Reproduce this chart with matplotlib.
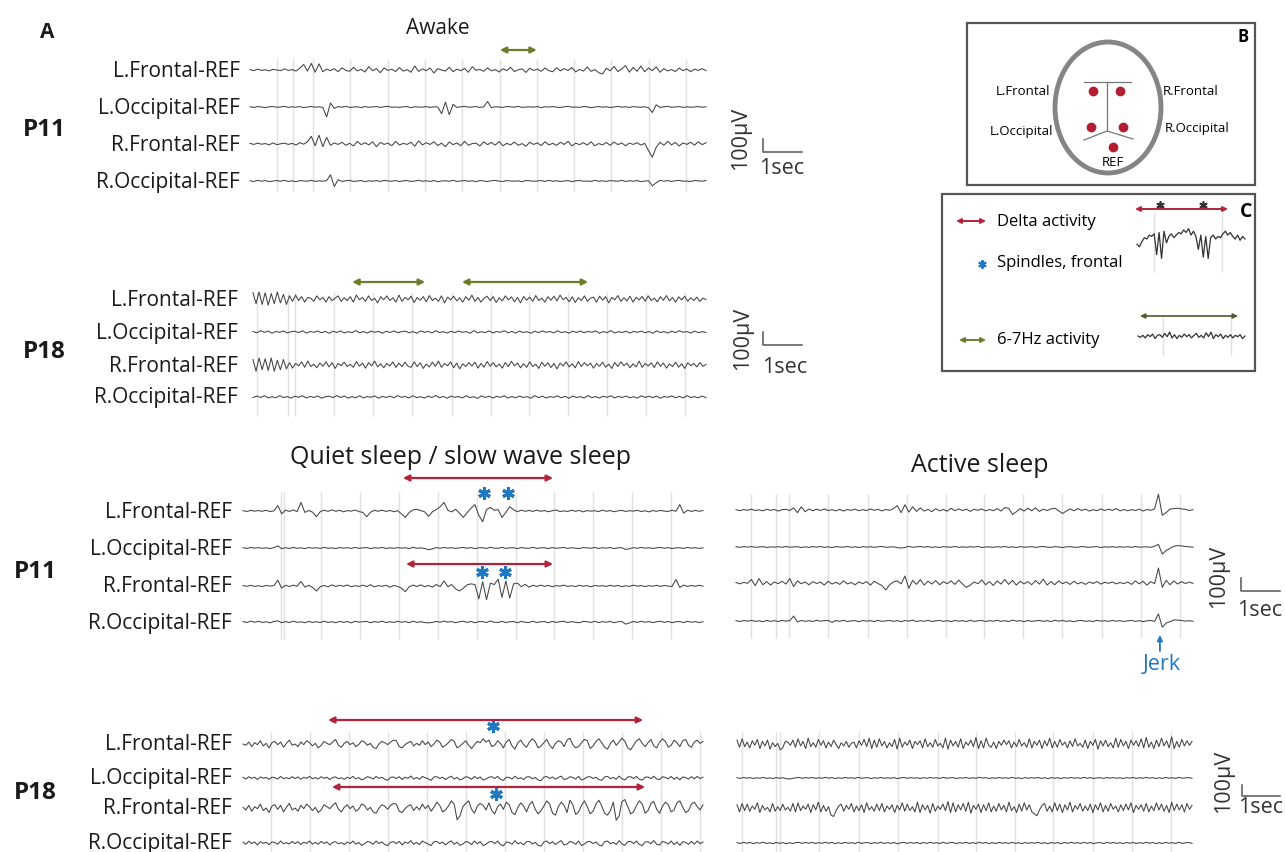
import numpy as np
import matplotlib
matplotlib.use("Agg")
import matplotlib.pyplot as plt
from matplotlib.patches import Ellipse, Rectangle

plt.rcParams['font.family'] = ['Open Sans', 'DejaVu Sans']

# ---- channel names -------------------------------------------------------
channels = ["L.Frontal-REF", "L.Occipital-REF", "R.Frontal-REF", "R.Occipital-REF"]

# ---- EEG traces, values in microvolts ------------------------------------
# Awake, P11
aw11_lf = [2,-3,4,-2,1,-4,3,0,-3,5,-2,2,-5,8,25,-5,30,-10,28,-8,4,
           -3,6,-8,10,-2,-6,12,-4,3,-9,15,-3,6,-12,9,-2,4,-7,11,-5,
           2,-10,18,-6,5,-3,9,-14,6,0,-5,12,-8,4,-3,7,-10,15,-2,3,
           -6,10,-4,2,-9,6,-3,12,-7,1,5,-11,8,-2,4,-6,9,-3,-8,10,
           -4,6,-2,11,-9,3,-5,14,-6,2,-12,-18,8,-4,16,-7,5,20,-10,12,
           -6,18,-8,9,-3,14,-10,6,-4,2,-7,9,-3,5,-8,4,-2,6,-3]
aw11_lo = [1,-2,2,0,-3,1,2,-1,0,3,-2,1,-1,2,-3,0,2,-1,1,-2,
           -45,18,-6,
           2,-1,3,-2,0,1,-3,2,-1,0,2,-2,1,3,-1,0,-2,1,2,-3,1,0,-1,2,-2,1,0,
           -30,22,-35,12,-2,1,3,-1,0,2,-2,1,25,
           -3,1,0,-2,2,1,-1,3,-2,0,1,-1,2,-3,1,0,2,-1,-2,1,
           3,-1,0,-2,2,1,-3,0,2,-1,1,-2,0,3,-1,1,-2,2,0,-1,1,-3,
           -25,10,-2,1,3,-1,0,2,-2,1,-1,0,2,-1,1]
aw11_rf = [3,-2,4,-1,2,-4,5,-3,1,4,-2,3,-5,6,-1,10,35,-8,40,-12,30,-6,
           5,-2,8,-6,3,-9,12,-3,6,-4,10,-12,7,-2,4,-8,12,-5,3,-2,
           8,-10,14,-4,6,-2,10,-7,4,-12,9,-3,5,-8,12,-6,2,4,-9,10,
           -3,7,-5,11,-8,3,-4,9,-6,2,-10,8,-2,5,-7,10,-4,3,-6,8,
           -2,12,-9,4,-3,6,-5,10,-8,2,-4,7,-6,9,-3,5,-8,4,-2,6,-5,3,
           -30,-60,-15,8,-6,12,-4,7,-9,5,-2,8,-5,10,-3,6]
aw11_ro = [1,-2,3,-1,2,-3,0,2,-1,3,-2,1,-3,2,0,-1,3,-2,1,-1,2,
           28,-25,6,
           -2,1,3,-2,0,2,-3,1,-1,2,-2,3,0,-1,2,-3,1,2,-2,0,
           3,-1,1,-2,2,-3,0,1,-1,3,-2,0,2,-1,1,-3,2,0,-2,1,
           3,-1,-2,2,0,-1,1,-3,2,1,-1,0,2,-2,3,-1,1,-2,0,2,
           -3,1,2,-1,0,-2,3,-1,1,-2,2,0,-1,3,-2,1,-1,2,-3,0,1,
           -22,-8,3,-1,2,-2,1,3,-1,0,-2,2,1,-1,2]

# Awake, P18
aw18_lf = [40,-30,45,-35,40,-40,35,-30,45,-25,30,-35,
           20,-15,25,-10,15,-20,10,5,-15,20,-5,10,-20,15,-10,5,20,-15,8,-10,
           15,-20,25,-5,10,-15,20,-10,5,-25,15,-5,20,-10,8,-20,25,-15,10,-5,
           18,-22,10,-8,15,-18,22,-10,5,-15,20,-25,12,-5,18,-12,8,-20,15,-8,
           25,-15,10,-20,5,18,-10,15,-22,8,-12,20,-6,14,-18,10,-25,16,-8,12,
           -15,22,-10,6,-20,15,-8,18,-12,25,-5,10,-18,14,-22,8,-10,20,-15,5,
           12,-20,18,-8,15,-25,10,-5,22,-15,8,-12,18,-20,10,-6,16,-14,20,-10,
           6,-18,15,-8,22,-12,10,-20,14,-6,18,-15,8,-10,12,-16,6,-4]
aw18_lo = [3,-5,8,-2,6,-8,4,-3,7,-6,2,5,-4,8,-7,3,-2,6,-5,4,
           -8,5,-3,7,-6,2,-4,9,-5,3,-7,6,-2,4,-8,5,-3,7,-4,2,
           6,-5,3,-8,7,-2,4,-6,8,-3,2,-7,5,-4,6,-2,3,-8,9,-5,
           2,-4,7,-6,3,-2,8,-5,4,-7,6,-3,2,-8,5,-4,7,-2,3,-6,
           8,-4,2,-7,5,-3,6,-5,4,-2,7,-8,3,-4,9,-6,2,-3,5,-7,
           4,-2,6,-5,3,-8,7,-3,2,-6,5,-4,8,-2,3,-7,6,-4,2,-3]
aw18_rf = [35,-40,45,-30,40,-35,45,-40,30,-30,35,-25,
           15,-20,10,-5,20,-15,25,-10,5,-18,12,-8,20,-12,15,-22,10,-5,18,-10,
           5,-15,22,-8,12,-20,15,-5,25,-12,8,-18,10,-6,20,-15,12,-10,18,-8,
           -15,20,-10,14,-22,6,-12,18,-8,25,-15,10,-5,20,-18,12,-25,8,-10,15,
           -6,18,-20,10,-14,22,-8,15,-12,6,-20,16,-10,24,-5,12,-18,8,-15,20,
           -10,5,-22,18,-8,14,-16,10,-25,12,-6,20,-12,8,-18,22,-10,15,-5,12,
           -20,10,-8,18,-14,6,-22,16,-10,20,-5,12,-18,8,-12,25,-15,10,-6,14,
           -16,20,-8,12,-20,6,-10,18,-14,8,-22,15,-5,10,-12,16,-8,4]
aw18_ro = [-4,6,-3,8,-6,2,-5,9,-4,3,-7,5,-2,8,-6,4,-3,7,-8,2,
           5,-4,9,-3,6,-7,2,-5,8,-6,3,-2,7,-8,4,-3,6,-5,9,-2,
           3,-6,8,-4,2,-7,5,-3,10,-5,4,-8,6,-2,3,-6,8,-4,2,-9,
           7,-3,5,-6,4,-2,8,-7,3,-5,6,-3,2,-8,9,-4,5,-6,3,-2,
           7,-5,4,-8,6,-3,2,-6,9,-4,3,-7,5,-2,8,-6,4,-3,6,-5,
           2,-7,8,-3,5,-4,6,-8,3,-2,7,-5,4,-6,8,-3,2,-5,6,-4]

# Quiet sleep, P11
qs11_lf = [2,-3,4,-1,3,-2,5,-4,1,38,-20,6,-3,8,-5,60,-10,4,-8,-40,-5,
           6,-3,8,-2,5,-6,3,-1,7,-4,-10,-40,-8,5,-2,6,-3,4,-5,2,
           -20,-45,-10,8,12,3,-6,-38,-5,10,30,60,5,-6,12,-15,-45,-10,
           20,45,-30,-75,10,25,5,10,-45,-10,30,8,-5,6,-2,
           4,-3,6,-2,3,-5,2,7,-4,1,-3,5,-2,4,-6,3,-1,2,-4,6,
           -2,3,-5,1,4,-3,2,-1,5,-4,2,-6,3,-2,4,-1,-3,5,-2,
           45,-15,5,-3,4,-2,3]
qs11_lo = [2,-3,4,-1,3,-2,1,-4,3,15,-5,2,-3,4,-2,1,-4,3,-1,2,
           -3,5,-2,1,-4,3,-1,2,-3,4,-2,1,3,-4,2,-1,4,-3,1,-2,
           3,-1,2,-4,5,-2,1,-3,-12,-6,3,-2,4,-1,2,-3,1,4,-2,3,
           -4,1,2,-3,5,-1,-2,4,-3,1,2,-4,3,-1,-2,5,-3,1,2,-4,
           3,-2,1,4,-3,2,-1,-4,3,1,-2,4,-3,2,-1,3,-4,1,2,-10,
           -5,3,-2,4,-1,2,-3,1,4,-2,3,-4,1,2,-3,4,-1,2,-3,1]
qs11_rf = [3,-2,5,-3,2,-4,4,-1,3,40,-15,5,-4,6,-2,32,-8,5,-10,-35,-5,
           4,-6,8,-3,5,-2,7,-5,2,-3,6,-4,9,-6,3,-2,5,-8,4,-3,
           -15,-40,-5,6,-3,8,-5,4,-8,10,-4,35,-5,
           10,-20,-35,-15,8,15,10,-90,30,-95,20,10,48,-80,35,-85,15,
           20,-5,12,-8,
           5,-3,6,-2,4,-5,3,-1,6,-3,2,-4,5,-2,3,-6,4,-1,2,-3,
           5,-2,4,-5,2,-3,6,-1,3,-4,2,-2,5,-3,4,-1,-3,
           45,-10,6,-3,4,-2,5,-1]
qs11_ro = [3,-4,6,-2,5,-3,2,-6,4,8,-5,3,-4,6,-2,1,-5,4,-3,2,
           -4,6,-3,2,-5,4,-2,3,-6,5,-1,2,4,-5,3,-2,6,-4,2,-3,
           5,-2,3,-5,6,-3,2,-4,-6,-3,4,-2,6,-1,3,-5,2,5,-3,4,
           -5,2,3,-4,7,-2,-3,5,-4,2,3,-5,4,-2,-3,6,-4,2,3,-5,
           4,-3,2,5,-4,3,-2,-5,4,2,-3,5,-4,3,-2,4,-5,2,3,-15,
           -6,4,-3,5,-2,3,-4,2,5,-3,4,-5,2,3,-4,5,-2,3,-4,2]

# Active sleep, P11 (jerk near the end)
as11_lf = [2,-4,3,-2,5,-3,1,-5,4,-2,3,-6,2,4,-3,12,-15,18,-10,6,
           -4,5,-3,6,-3,2,-5,4,-6,3,-2,5,-4,2,-3,6,-2,4,-5,3,
           -2,8,25,-15,30,-12,18,-8,12,-6,4,-10,8,-5,3,-7,10,-4,6,-3,
           5,-8,4,-2,6,-5,3,-4,8,-6,14,10,-25,-10,8,-6,10,-4,12,-8,
           5,-3,6,10,-4,-20,-6,6,-4,8,-3,5,-6,2,-4,6,-3,5,-2,8,
           -5,3,-4,2,-3,5,-6,3,-2,6,90,-30,-15,5,8,10,6,4,-3,2]
as11_lo = [1,-2,2,-1,3,-2,0,2,-3,1,-1,2,-2,3,-1,0,2,-3,1,-2,
           2,-1,3,-2,1,-3,2,0,-1,3,-2,1,-3,2,-1,2,-2,1,3,-2,
           0,1,-3,-6,-3,4,-2,1,3,-1,2,-2,1,-3,2,0,-1,3,-2,1,
           -2,2,-1,3,-3,1,0,-2,2,-1,3,-2,1,-3,2,-1,0,2,-2,1,
           3,-1,-2,2,0,-3,1,2,-1,-2,3,0,-2,1,2,-3,1,-1,2,-2,
           1,-1,2,-2,3,-1,0,1,-2,4,15,-40,-20,-8,4,8,6,3,1,-1]
as11_rf = [3,-5,4,-2,20,-15,25,-10,8,-12,6,-4,10,-6,25,-20,12,-4,6,-10,
           8,-3,5,-12,10,-6,4,-8,12,-5,3,-10,6,-4,8,-12,10,-3,-15,-40,
           -10,6,12,-5,40,-30,15,-8,20,-12,10,-6,14,-10,8,-4,12,-8,16,-6,
           -25,-12,6,-4,18,-10,8,-14,12,-6,20,-8,15,-12,10,-5,8,-10,14,-6,
           22,-12,8,-10,12,-4,6,-8,10,-5,4,-8,6,-3,8,-6,4,-2,6,-5,
           3,-4,6,-8,12,-5,10,-12,8,-4,85,-25,15,-10,12,-6,8,-3,5,-2]
as11_ro = [2,-3,3,-1,4,-2,1,-4,3,-2,2,-3,4,-1,2,28,-5,3,-2,2,
           -3,4,-1,2,3,-8,3,-2,4,-3,1,2,-4,3,-1,2,-3,4,-2,1,
           3,-2,2,-4,3,-1,5,-3,2,-2,4,-3,1,3,-2,2,-4,3,-1,2,
           -3,4,-2,1,3,-3,2,-1,4,-2,2,-3,5,-1,2,-4,3,-2,1,3,
           -2,2,-3,4,-1,3,-2,1,-4,2,3,-2,1,-3,4,-1,2,-2,3,-1,
           2,-3,1,3,-2,2,-4,1,3,-2,40,-35,-12,-4,6,5,3,-1,2,-2]

# Quiet sleep, P18 (slow waves)
qs18_lf = [0,-10,15,-20,10,-5,25,-15,5,-30,10,20,-5,15,-25,5,30,-10,0,-20,
           15,-5,25,10,-15,5,-30,-10,20,5,-5,15,35,-10,-25,5,20,-5,10,-20,
           -5,25,15,-10,5,-25,-35,0,20,10,-5,15,30,25,-20,-30,-5,10,20,-15,
           5,-10,25,-5,15,-20,0,30,15,-25,-10,10,35,20,-30,-15,5,25,-10,-35,
           -5,20,10,40,15,30,-20,-10,25,5,-30,15,35,-15,-40,10,30,-5,-25,15,
           40,20,-30,-15,10,35,-10,-35,5,25,15,-20,30,45,-5,-30,-20,10,35,25,
           -35,-15,20,40,10,-25,-40,5,30,-10,15,45,20,-30,-45,-10,25,40,5,-20,
           10,35,-15,-30,15,40,20,-25,-10,30,10,-20,25,35,-10,-25,15,30,5,20]
qs18_lo = [5,-8,10,-3,6,-12,8,-2,4,-10,6,3,-8,12,-5,2,-6,10,-4,8,
           -10,5,-2,12,-6,4,-8,10,-3,6,-12,4,8,-5,2,-10,6,-4,12,-7,
           3,-15,-5,10,4,-8,12,-3,6,-10,-18,5,8,-4,10,-12,6,-2,15,-8,
           4,-10,12,2,-6,-18,8,10,-4,6,-12,3,14,-8,5,-15,-6,10,4,-10,
           12,-5,8,-16,-8,6,10,-4,12,-10,-18,6,4,-8,14,-5,2,-12,8,10,
           -6,4,-15,-20,6,12,-4,8,-10,5,14,-12,-6,10,4,-8,12,-16,-6,8,
           10,-4,6,-12,-18,8,12,-5,4,-10,15,-6,-15,8,10,-4,12,-10,-16,6,
           8,-5,14,-8,-12,10,4,-6,12,-10,6,-14,8,4,-8,10,-6,12,-4,6]
qs18_rf = [5,-15,20,-25,10,-5,30,-20,0,-35,15,25,-10,20,-30,5,35,-15,0,-25,
           20,-5,30,10,-20,5,-35,-15,25,10,-5,20,40,-10,-30,5,25,-5,15,-25,
           -10,30,20,-15,5,-30,-40,0,25,15,-10,20,35,30,-25,-35,-5,15,25,-20,
           10,-15,30,-5,20,-25,5,45,20,-30,-15,15,55,30,-90,-60,10,35,55,-10,
           -40,15,35,20,-15,40,-20,-45,10,30,-10,45,25,-35,-50,5,40,15,-30,25,
           50,-10,-45,-20,15,55,30,-40,-55,10,45,20,-35,60,25,-50,-30,20,55,10,
           -45,-25,30,60,15,-40,-55,-20,45,-95,-60,50,65,10,-45,-30,20,55,30,-40,
           -20,35,50,-10,-40,15,45,25,-30,-15,40,55,5,-35,-20,30,45,10,-15,25]
qs18_ro = [6,-10,14,-5,8,-15,10,-3,6,-12,8,4,-10,15,-6,3,-8,12,-5,10,
           -12,6,-3,15,-8,5,-10,12,-4,8,-15,5,10,-6,3,-12,8,-5,15,-9,
           4,-18,-6,12,5,-10,15,-4,8,-12,-20,6,10,-5,12,-15,8,-3,18,-10,
           5,-12,15,3,-8,-20,10,12,-5,8,-15,4,16,-10,6,-18,-8,12,5,-12,
           15,-6,10,-20,-10,8,12,-5,15,-12,-22,8,5,-10,18,-6,3,-15,10,12,
           -8,5,-18,-24,8,15,-5,10,-12,6,18,-15,-8,12,5,-10,15,-20,-8,10,
           12,-5,8,-15,-22,10,15,-6,5,-12,18,-8,-18,10,12,-5,15,-12,-20,8,
           10,-6,18,-10,-15,12,5,-8,15,-12,8,-18,10,5,-10,12,-8,15,-5,8]

# Active sleep, P18
as18_lf = [30,-25,40,-20,15,-30,25,-10,35,-35,20,-15,30,-40,10,-20,5,-45,-30,20,
           15,-10,30,-25,40,-15,20,-35,45,-20,10,-25,35,-10,25,-30,15,-20,30,-5,
           -35,10,-15,20,-25,5,15,-30,25,-10,35,-20,45,-35,30,-25,40,-15,20,-30,
           10,-20,35,-40,45,-25,15,-10,30,-35,20,-5,25,-30,40,-20,10,-25,35,-15,
           5,-30,45,-40,30,-15,20,-25,40,-35,15,-10,30,-20,50,-35,25,-30,45,-10,
           -25,15,-35,20,-10,30,-5,25,-30,15,-20,35,-15,10,-25,40,-30,20,-10,30,
           -35,25,-15,45,-30,20,-25,35,-10,15,-30,25,-20,40,-15,5,-25,30,-35,20,
           -10,35,-40,25,-15,30,-20,10,-30,45,-25,35,-15,20,-35,30,-10,25,-20,40,
           -30,50,-25,15,-35,30,-20,45,-15,25,-30,55,-35,20,-25,35,-15,25,-10,20]
as18_lo = [2,-3,4,-1,3,-4,2,-2,5,-3,1,-4,3,-2,2,-5,-8,-3,2,4,
           -2,3,-1,4,-3,2,-2,5,-1,3,-4,2,-3,4,-1,2,-3,5,-2,1,
           3,-4,2,-1,4,-3,2,-2,3,-5,1,4,-2,3,-1,2,-4,3,-2,4,
           -1,2,-3,5,-2,1,3,-4,2,-1,4,-3,2,-2,5,-1,3,-4,2,-3,
           4,-1,2,-3,5,-2,1,-4,3,-2,2,-1,4,-3,2,-5,3,-1,2,-4,
           3,-2,4,-1,2,-3,5,-2,3,-4,1,2,-3,4,-1,3,-2,2,-4,3,
           -1,4,-3,2,-2,5,-1,3,-4,2,-3,4,-1,2,-3,5,-2,1,3,-2]
as18_rf = [25,-30,35,-20,30,-25,15,-10,40,-35,20,-15,5,-30,35,-25,10,-20,30,-15,
           5,-25,35,-30,40,-20,15,-10,30,-35,25,-15,45,-30,20,-25,10,-55,-65,-20,
           15,30,-25,20,-10,35,-30,15,-20,25,-35,40,-15,10,-25,30,-20,35,-30,15,
           -10,25,-35,20,-15,40,-25,30,-20,10,-30,45,-35,25,-15,20,-40,35,-25,15,
           -10,30,-20,50,-35,40,-30,25,-15,35,-25,45,-40,20,-10,30,-35,25,-20,40,
           -30,15,-25,35,-15,20,-30,45,-20,10,-35,30,-25,40,-15,25,-30,-45,-60,-15,
           20,35,-25,15,-30,40,-20,30,-35,25,-15,45,-30,20,-10,35,-25,15,-20,30,
           -35,25,-15,40,-30,20,-25,35,-10,15,-30,25,-20,30,-15,40,-35,20,-10,25,
           -25,35,-30,15,-20,40,-15,30,-25,20,-35,45,-20,30,-15,25,-30,35,-10,20]
as18_ro = [3,-4,5,-2,4,-5,3,-2,6,-4,2,-5,4,-3,3,-6,2,-4,3,5,
           -3,4,-2,5,-4,3,-3,6,-2,4,-5,3,-4,5,-2,3,-4,6,-3,2,
           4,-5,3,-2,5,-4,3,-3,4,-6,2,5,-3,4,-2,3,-5,4,-3,5,
           -2,3,-4,6,-3,2,4,-5,3,-2,5,-4,3,-3,6,-2,4,-5,3,-4,
           5,-2,3,-4,6,-3,2,-5,4,-3,3,-2,5,-4,3,-6,4,-2,3,-5,
           4,-3,5,-2,3,-4,6,-3,4,-5,2,3,-4,5,-2,4,-3,3,-5,4,
           -2,5,-4,3,-3,6,-2,4,-5,3,-4,5,-2,3,-4,6,-3,2,4,-3]

# legend examples (panel C)
delta_example = [-40,-60,-20,10,0,30,20,40,-120,50,-150,60,-30,20,40,10,30,50,40,70,
                 50,80,30,60,20,-80,30,-140,20,-150,10,30,0,20,10,40,60,30,50,20,
                 0,30,-10,20,0]
theta_example = [0,-10,5,-15,10,-5,15,-20,5,10,-10,20,-5,30,-15,10,-20,5,-10,15,
                 -5,10,-15,5,20,-10,5,-15,25,-5,30,-20,10,-5,15,-20,5,-10,10,-15,
                 5,-5,10,-20,0]

# one-second marker positions (s) for each strip
aw11_marks = [0.72, 1.15, 1.69, 2.69, 3.69, 4.69, 5.69, 6.69, 7.69, 8.69, 9.69, 10.69, 11.69]
aw18_marks = [0.10, 0.89, 1.07, 2.07, 3.06, 4.06, 5.08, 6.07, 7.04, 8.04, 9.03, 10.03, 11.02]
qs11_marks = [0.97, 1.05, 2.0, 3.0, 4.0, 5.0, 6.0, 7.0, 7.97, 8.97, 9.97, 10.97]
as11_marks = [0.38, 1.03, 1.36, 2.36, 3.38, 4.38, 5.38, 6.36, 7.36, 8.36, 9.38, 10.38, 11.38]
qs18_marks = [0.72, 1.72, 2.72, 3.72, 4.72, 5.72, 6.72, 7.72, 8.72, 9.72, 10.72, 11.72]
as18_marks = [0.13, 0.99, 1.09, 2.09, 3.10, 4.10, 5.11, 6.08, 7.07, 8.04, 9.06, 10.05, 11.04]

W, H = 1285, 853
PX_PER_UV = 0.13
TRACE = '#444444'
GRID = '#e0e0e0'
RED = '#b3243a'
GREEN = '#6b7d2a'
BLUE = '#1f78c1'
TXT = '#1a1a1a'

fig = plt.figure(figsize=(W / 100, H / 100), dpi=100)
ax = fig.add_axes([0, 0, 1, 1])
ax.set_xlim(0, W)
ax.set_ylim(H, 0)
ax.axis('off')


def eeg_panel(x0, x1, base, grid_top, grid_bot, pps, marks, traces, gain=1.0):
    # gain = display sensitivity of the strip
    dur = (x1 - x0) / pps
    top, bot = grid_top - 20, grid_bot + 20
    pax = fig.add_axes([x0 / W, 1 - bot / H, (x1 - x0) / W, (bot - top) / H])
    pax.set_xlim(0, dur)
    pax.set_ylim(base[0] - bot, base[0] - top)
    pax.axis('off')
    pax.vlines(marks, base[0] - grid_bot, base[0] - grid_top, color=GRID, lw=1)
    for b, tr in zip(base, traces):
        t = np.linspace(0, dur, len(tr))
        pax.plot(t, (base[0] - b) + gain * PX_PER_UV * np.array(tr), color=TRACE,
                 lw=0.75, clip_on=False)
    return pax


def span_arrow(pax, base0, t0, t1, y, color):
    pax.annotate('', xy=(t1, base0 - y), xytext=(t0, base0 - y),
                 arrowprops=dict(arrowstyle='<|-|>', color=color, lw=1.6,
                                 mutation_scale=9, shrinkA=0, shrinkB=0),
                 annotation_clip=False)


def star(pax, base0, t, y, color=BLUE, size=9, width=2.2):
    pax.plot([t], [base0 - y], marker=(6, 2, 0), ms=size, mew=width, color=color,
             clip_on=False)


def labels(xr, base):
    for name, b in zip(channels, base):
        ax.text(xr, b, name, ha='right', va='center', fontsize=15, color=TXT)


def scale_bar(xv, ytop, ybot, xh, tx, ty, lx, ly):
    ax.plot([xv, xv, xh], [ytop, ybot, ybot], color='#555555', lw=1.1)
    ax.text(lx, ly, '100µV', rotation=90, ha='center', va='center', fontsize=15.5,
            color='#333333')
    ax.text(tx, ty, '1sec', ha='center', va='center', fontsize=15.5, color='#333333')


# ---- Awake P11 ----
b = [71, 108, 145, 182]
p = eeg_panel(250, 706, b, 60, 192, 37.3, aw11_marks,
              [aw11_lf, aw11_lo, aw11_rf, aw11_ro], gain=1.7)
span_arrow(p, b[0], 6.70, 7.69, 51, GREEN)
labels(240, b)
scale_bar(763, 140, 153, 802, 782, 168, 741, 138)

# ---- Awake P18 ----
b = [300, 333, 366, 398]
p = eeg_panel(253, 706, b, 293, 417, 39.2, aw18_marks,
              [aw18_lf, aw18_lo, aw18_rf, aw18_ro], gain=1.2)
span_arrow(p, b[0], 2.53, 4.39, 283, GREEN)
span_arrow(p, b[0], 5.33, 8.55, 283, GREEN)
labels(238, b)
scale_bar(763, 333, 346, 802, 785, 367, 743, 338)

# ---- Quiet sleep P11 ----
b = [512, 549, 587, 623]
p = eeg_panel(243, 703, b, 493, 640, 39.0, qs11_marks,
              [qs11_lf, qs11_lo, qs11_rf, qs11_ro], gain=1.1)
span_arrow(p, b[0], 4.10, 7.95, 479, RED)
span_arrow(p, b[0], 4.18, 7.95, 565, RED)
for t in (6.18, 6.79):
    star(p, b[0], t, 494)
for t in (6.13, 6.72):
    star(p, b[0], t, 573)
labels(232, b)

# ---- Active sleep P11 ----
b = [511, 548, 584, 622]
p = eeg_panel(736, 1193, b, 495, 639, 39.0, as11_marks,
              [as11_lf, as11_lo, as11_rf, as11_ro], gain=1.35)
jerk_t = 10.87
p.annotate('', xy=(jerk_t, b[0] - 636), xytext=(jerk_t, b[0] - 652),
           arrowprops=dict(arrowstyle='-|>', color=BLUE, lw=1.3, mutation_scale=8,
                           shrinkA=0, shrinkB=0), annotation_clip=False)
ax.text(1162, 665, 'Jerk', ha='center', va='center', fontsize=15.5, color=BLUE)
scale_bar(1241, 579, 592, 1280, 1260, 610, 1219, 576)

# ---- Quiet sleep P18 ----
b = [745, 779, 809, 844]
p = eeg_panel(243, 703, b, 733, 853, 39.0, qs18_marks,
              [qs18_lf, qs18_lo, qs18_rf, qs18_ro])
span_arrow(p, b[0], 2.18, 10.26, 721, RED)
span_arrow(p, b[0], 2.28, 10.31, 788, RED)
star(p, b[0], 6.41, 727)
star(p, b[0], 6.49, 795)
labels(232, b)

# ---- Active sleep P18 ----
p = eeg_panel(737, 1192, b, 733, 853, 39.3, as18_marks,
              [as18_lf, as18_lo, as18_rf, as18_ro])
scale_bar(1242, 786, 797, 1280, 1261, 808, 1224, 781)

# ---- titles and row labels ----
ax.text(438, 28, 'Awake', ha='center', va='center', fontsize=15, color=TXT)
ax.text(461, 458, 'Quiet sleep / slow wave sleep', ha='center', va='center', fontsize=18,
        color=TXT)
ax.text(980, 465, 'Active sleep', ha='center', va='center', fontsize=18, color=TXT)
ax.text(47, 32, 'A', ha='center', va='center', fontsize=15, fontweight='bold', color=TXT)
for x, y, s in [(44, 130, 'P11'), (44, 352, 'P18'), (35, 572, 'P11'), (35, 793, 'P18')]:
    ax.text(x, y, s, ha='center', va='center', fontsize=17.5, fontweight='bold', color=TXT)

# ---- panel B: electrode montage ----
ax.add_patch(Rectangle((967, 24), 288, 162, fill=False, ec='#555555', lw=1.6))
ax.add_patch(Ellipse((1108, 108.5), 106, 131, fill=False, ec='#858585', lw=3.5))
ax.plot([1084, 1131], [83, 83], color='#777777', lw=0.9)
ax.plot([1107, 1107], [83, 132], color='#777777', lw=0.9)
ax.plot([1084, 1107, 1133], [141, 132, 140], color='#777777', lw=0.9)
ax.scatter([1093, 1120, 1091, 1123, 1113], [92, 92, 128, 128, 148], s=36, color='#b11e2f',
           zorder=3)
ax.text(1050, 91, 'L.Frontal', ha='right', va='center', fontsize=9.5)
ax.text(1163, 91, 'R.Frontal', ha='left', va='center', fontsize=9.5)
ax.text(1053, 131, 'L.Occipital', ha='right', va='center', fontsize=9.5)
ax.text(1165, 128, 'R.Occipital', ha='left', va='center', fontsize=9.5)
ax.text(1113, 162, 'REF', ha='center', va='center', fontsize=9.5)
ax.text(1243, 37, 'B', ha='center', va='center', fontsize=12, fontweight='bold')

# ---- panel C: legend ----
ax.add_patch(Rectangle((942, 195), 313, 177, fill=False, ec='#555555', lw=1.6))
ax.text(1246, 212, 'C', ha='center', va='center', fontsize=14, fontweight='bold')
ax.annotate('', xy=(986, 222), xytext=(956, 222),
            arrowprops=dict(arrowstyle='<|-|>', color=RED, lw=1.4, mutation_scale=7,
                            shrinkA=0, shrinkB=0))
ax.annotate('', xy=(986, 341), xytext=(959, 341),
            arrowprops=dict(arrowstyle='<|-|>', color=GREEN, lw=1.4, mutation_scale=7,
                            shrinkA=0, shrinkB=0))
ax.plot([982], [265], marker=(6, 2, 0), ms=6, mew=1.5, color=BLUE)
ax.text(997, 222, 'Delta activity', ha='left', va='center', fontsize=12)
ax.text(997, 263, 'Spindles, frontal', ha='left', va='center', fontsize=12)
ax.text(997, 340, '6-7Hz activity', ha='left', va='center', fontsize=12)

# example strips inside panel C
ax.vlines([1154, 1222], 213, 273, color=GRID, lw=1)
ax.vlines([1163, 1231], 317, 357, color=GRID, lw=1)
xs = np.linspace(1137, 1245, len(delta_example))
ax.plot(xs, 240 - PX_PER_UV * np.array(delta_example), color='#333333', lw=0.9)
xs = np.linspace(1138, 1245, len(theta_example))
ax.plot(xs, 337 - PX_PER_UV * np.array(theta_example), color='#333333', lw=0.9)
ax.annotate('', xy=(1228, 210), xytext=(1135, 210),
            arrowprops=dict(arrowstyle='<|-|>', color=RED, lw=1.4, mutation_scale=7,
                            shrinkA=0, shrinkB=0))
ax.annotate('', xy=(1238, 317), xytext=(1140, 317),
            arrowprops=dict(arrowstyle='<|-|>', color='#4f5a2a', lw=1.2, mutation_scale=7,
                            shrinkA=0, shrinkB=0))
ax.plot([1160, 1203], [206, 206], ls='none', marker=(6, 2, 0), ms=6, mew=1.2,
        color='#333333')

fig.savefig('out.png', dpi=100)
